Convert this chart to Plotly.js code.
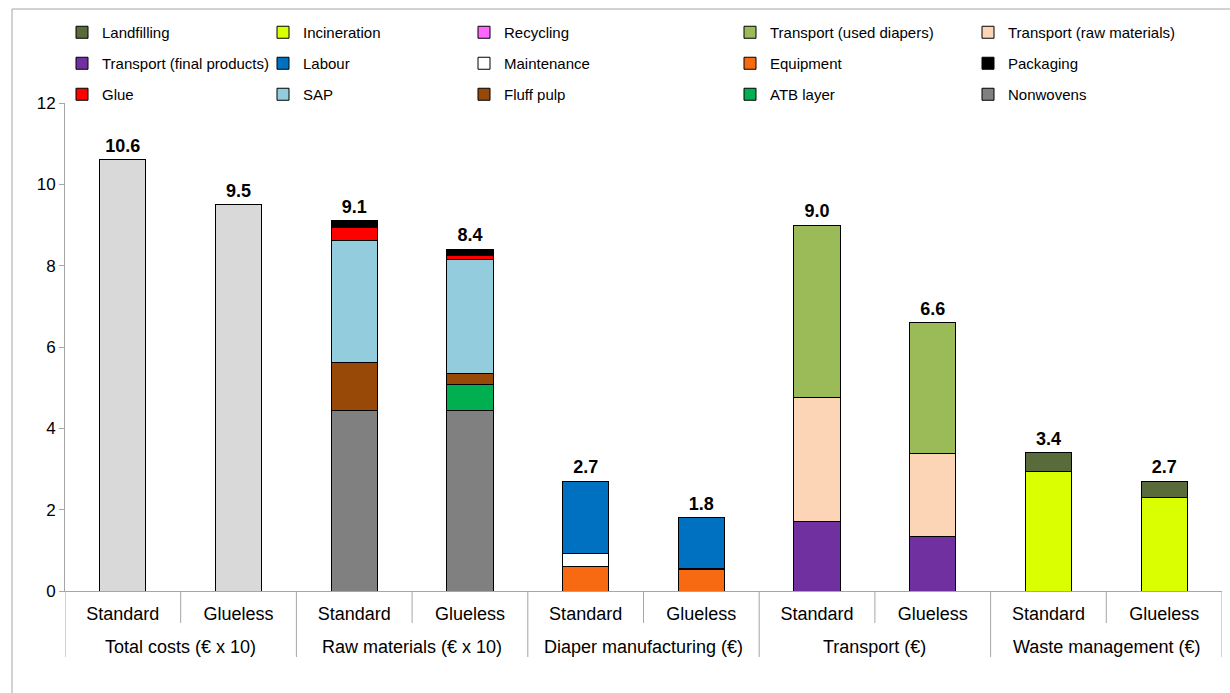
<!DOCTYPE html>
<html>
<head>
<meta charset="utf-8">
<script src="https://cdn.plot.ly/plotly-3.0.1.min.js"></script>
<style>
  html, body { margin: 0; padding: 0; background: #fff; }
  #chart { width: 1230px; height: 693px; }
</style>
</head>
<body>
<div id="chart"></div>
<script>
// Category labels
const groups = ['Total costs (€ x 10)', 'Raw materials (€ x 10)', 'Diaper manufacturing (€)', 'Transport (€)', 'Waste management (€)'];
const variants = ['Standard', 'Glueless'];

// Cost components, [Standard, Glueless]
const totalCosts = [10.6, 9.5];          // Total costs (€ x 10)
const nonwovens = [4.45, 4.45];          // Raw materials (€ x 10)
const atbLayer = [0, 0.62];
const fluffPulp = [1.18, 0.28];
const sap = [3.0, 2.8];
const glue = [0.32, 0.10];
const packaging = [0.15, 0.15];
const equipment = [0.60, 0.53];          // Diaper manufacturing (€)
const maintenance = [0.32, 0.03];
const labour = [1.78, 1.24];
const transportFinal = [1.72, 1.33];     // Transport (€)
const transportRaw = [3.03, 2.04];
const transportUsed = [4.25, 3.23];
const recycling = [0, 0];                // Waste management (€)
const incineration = [2.94, 2.30];
const landfilling = [0.46, 0.40];

// One slot per (group, variant) pair along a numeric x axis
const nSlots = groups.length * variants.length;
const slots = Array.from({ length: nSlots }, (_, i) => i);
const slotLabels = slots.map(i => variants[i % variants.length]);

// Spread a [Standard, Glueless] pair into the slots of its group
function place(pair, groupIdx) {
  const out = new Array(nSlots).fill(null);
  out[groupIdx * 2] = pair[0];
  out[groupIdx * 2 + 1] = pair[1];
  return out;
}

// name, values, group, colour, legend column, legend row (null = no legend entry)
const series = [
  ['Total costs', totalCosts, 0, '#D9D9D9', null, null],
  ['Nonwovens', nonwovens, 1, '#808080', 5, 3],
  ['ATB layer', atbLayer, 1, '#00B050', 4, 3],
  ['Fluff pulp', fluffPulp, 1, '#984807', 3, 3],
  ['SAP', sap, 1, '#93CDDD', 2, 3],
  ['Glue', glue, 1, '#FF0000', 1, 3],
  ['Packaging', packaging, 1, '#000000', 5, 2],
  ['Equipment', equipment, 2, '#F76A12', 4, 2],
  ['Maintenance', maintenance, 2, '#FFFFFF', 3, 2],
  ['Labour', labour, 2, '#0070C0', 2, 2],
  ['Transport (final products)', transportFinal, 3, '#7030A0', 1, 2],
  ['Transport (raw materials)', transportRaw, 3, '#FBD5B5', 5, 1],
  ['Transport (used diapers)', transportUsed, 3, '#9BBB59', 4, 1],
  ['Recycling', recycling, 4, '#FF66FF', 3, 1],
  ['Incineration', incineration, 4, '#DAFF00', 2, 1],
  ['Landfilling', landfilling, 4, '#5A6B3B', 1, 1]
];

const legendIds = ['legend', 'legend2', 'legend3', 'legend4', 'legend5'];
const FONT = 'Liberation Sans, Arial, sans-serif';
const AXIS_GREY = '#A6A6A6';

const traces = series.map(([name, vals, gi, color, col, row]) => {
  const t = {
    type: 'bar',
    name: name,
    x: slots,
    y: place(vals, gi),
    marker: { color: color, line: { color: '#000000', width: 1 } },
    hoverinfo: 'name+y'
  };
  if (col === null) {
    t.showlegend = false;
  } else {
    t.legend = legendIds[col - 1];
    t.legendrank = row;
    t.legendgroup = name;
  }
  return t;
});

// Stack totals shown above each bar
const totals = slots.map(i => series.reduce((s, sr) => {
  const v = place(sr[1], sr[2])[i];
  return s + (v || 0);
}, 0));

traces.push({
  type: 'scatter',
  mode: 'markers+text',
  x: slots,
  y: totals,
  text: totals.map(v => v.toFixed(1)),
  textposition: 'top center',
  textfont: { family: FONT, size: 18, color: '#000000', weight: 'bold' },
  marker: { size: 4, color: 'rgba(0,0,0,0)' },
  showlegend: false,
  hoverinfo: 'skip',
  cliponaxis: false
});

// Plot area in pixels: left 65, right 1222, top 103, bottom 591
const PL = 65, PR = 1222, PT = 103, PB = 591;
const px2x = p => (p - PL) / (PR - PL);
const px2y = p => (PB - p) / (PB - PT);

// Category separators: short ones between variants, long ones between groups
const shapes = [];
for (let b = 0; b <= nSlots; b++) {
  const xb = b - 0.5;
  const groupEdge = b % variants.length === 0;
  shapes.push({
    type: 'line', xref: 'x', yref: 'paper',
    x0: xb, x1: xb, y0: 0, y1: px2y(groupEdge ? 657 : 623),
    line: { color: AXIS_GREY, width: 1 }
  });
}
// Outer frame
shapes.push({
  type: 'rect', xref: 'paper', yref: 'paper',
  x0: px2x(12), x1: px2x(1240), y0: px2y(710), y1: px2y(9),
  line: { color: AXIS_GREY, width: 1 }, fillcolor: 'rgba(0,0,0,0)', layer: 'below'
});

// Group names under the variant labels
const annotations = groups.map((g, gi) => ({
  text: g,
  xref: 'x', yref: 'paper',
  x: gi * variants.length + (variants.length - 1) / 2,
  y: px2y(647),
  xanchor: 'center', yanchor: 'middle',
  showarrow: false,
  font: { family: FONT, size: 18, color: '#000000' }
}));

const legendXs = [62, 263, 464, 730, 968];
const legendBase = {
  orientation: 'v',
  xanchor: 'left',
  yanchor: 'top',
  y: px2y(16),
  bgcolor: 'rgba(0,0,0,0)',
  borderwidth: 0,
  traceorder: 'grouped',
  tracegroupgap: 8.5,
  itemwidth: 30,
  font: { family: FONT, size: 15, color: '#000000' }
};

const layout = {
  width: 1230,
  height: 693,
  margin: { l: PL, r: 1230 - PR, t: PT, b: 693 - PB, autoexpand: false },
  paper_bgcolor: '#FFFFFF',
  plot_bgcolor: '#FFFFFF',
  font: { family: FONT, size: 17, color: '#000000' },
  barmode: 'stack',
  bargap: 0.6,
  xaxis: {
    type: 'linear',
    range: [-0.5, nSlots - 0.5],
    tickmode: 'array',
    tickvals: slots,
    ticktext: slotLabels,
    ticks: '',
    ticklabelstandoff: 6,
    showline: true,
    linecolor: AXIS_GREY,
    linewidth: 1,
    showgrid: false,
    zeroline: false,
    tickfont: { size: 18, color: '#000000' }
  },
  yaxis: {
    range: [0, 12],
    dtick: 2,
    tick0: 0,
    ticks: 'outside',
    ticklen: 5,
    tickcolor: AXIS_GREY,
    showline: true,
    linecolor: AXIS_GREY,
    linewidth: 1,
    showgrid: false,
    zeroline: false,
    tickfont: { size: 17, color: '#000000' }
  },
  shapes: shapes,
  annotations: annotations
};

legendIds.forEach((id, i) => {
  layout[id] = Object.assign({}, legendBase, { x: px2x(legendXs[i]) });
});

Plotly.newPlot('chart', traces, layout, { displayModeBar: false, staticPlot: true });
</script>
</body>
</html>
